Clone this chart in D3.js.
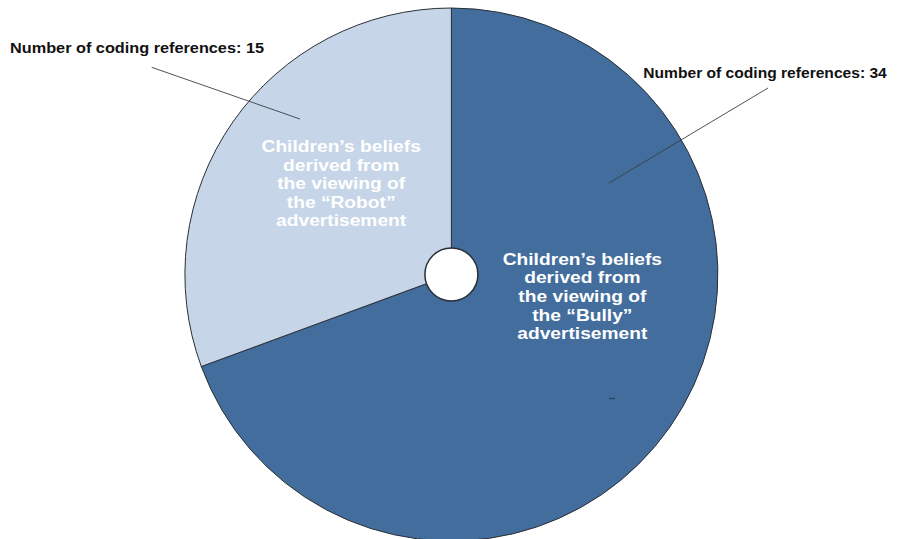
<!DOCTYPE html>
<html>
<head>
<meta charset="utf-8">
<script src="https://cdn.jsdelivr.net/npm/d3@7"></script>
<style>
  html, body { margin: 0; padding: 0; background: #fff; }
  svg { display: block; font-family: "Liberation Sans", Arial, sans-serif; }
</style>
</head>
<body>
<svg id="chart" width="897" height="539"></svg>
<script>
// Coding references per advertisement
const categories = ["Bully", "Robot"];
const values = [34, 15];
const sliceLines = [
  ["Children\u2019s beliefs", "derived from", "the viewing of", "the \u201CBully\u201D", "advertisement"],
  ["Children\u2019s beliefs", "derived from", "the viewing of", "the \u201CRobot\u201D", "advertisement"]
];
const refLabelPrefix = "Number of coding references: ";

const W = 897, H = 539;
const cx = 451.4, cy = 274.5, R = 266.5, holeR = 26.5;

const color = d3.scaleOrdinal().domain(categories).range(["#426d9c", "#c6d5e8"]);

const svg = d3.select("#chart");
const g = svg.append("g").attr("transform", `translate(${cx},${cy})`);

const pie = d3.pie().sort(null).value(d => d.value);
const arcs = pie(categories.map((c, i) => ({ cat: c, value: values[i], lines: sliceLines[i] })));
const arc = d3.arc().innerRadius(0).outerRadius(R);

g.selectAll("path.slice")
  .data(arcs)
  .join("path")
  .attr("class", "slice")
  .attr("d", arc)
  .attr("fill", d => color(d.data.cat))
  .attr("stroke", "#2a2f36")
  .attr("stroke-width", 1);

// Centre hole
g.append("circle")
  .attr("r", holeR)
  .attr("fill", "#fff")
  .attr("stroke", "#2a2f36")
  .attr("stroke-width", 1.5);

// In-slice descriptions (angle in degrees clockwise from top, radius fraction)
const inner = {
  Bully: { angle: 100.7, rf: 0.5, top: -34.5 },
  Robot: { angle: 310.0, rf: 0.54, top: -30 }
};
const lineH = 18.6;
arcs.forEach(d => {
  const p = inner[d.data.cat];
  const a = p.angle * Math.PI / 180;
  const x = Math.sin(a) * R * p.rf;
  const y = -Math.cos(a) * R * p.rf;
  const t = g.append("text")
    .attr("transform", `translate(${x},${y + p.top}) scale(1.13,1)`)
    .attr("text-anchor", "middle")
    .attr("fill", "#ffffff")
    .attr("font-weight", "bold")
    .attr("font-size", 17);
  d.data.lines.forEach((ln, i) => {
    t.append("tspan").attr("x", 0).attr("y", i * lineH).text(ln);
  });
});

// Outside reference-count labels with leader lines
const callouts = {
  Robot: { tx: 10, ty: 52.7, len: 254, x1: 151.7, y1: 67.3, x2: 300, y2: 119 },
  Bully: { tx: 643.3, ty: 77.7, len: 243.5, x1: 768, y1: 88, x2: 609, y2: 183 }
};
arcs.forEach(d => {
  const c = callouts[d.data.cat];
  svg.append("line")
    .attr("x1", c.x1).attr("y1", c.y1)
    .attr("x2", c.x2).attr("y2", c.y2)
    .attr("stroke", "#3a3f46")
    .attr("stroke-width", 0.9);
  svg.append("text")
    .attr("x", c.tx).attr("y", c.ty)
    .attr("font-weight", "bold")
    .attr("font-size", 15.2)
    .attr("fill", "#111")
    .attr("textLength", c.len)
    .attr("lengthAdjust", "spacingAndGlyphs")
    .text(refLabelPrefix + d.data.value);
});

// small stray tick inside the larger slice
svg.append("line")
  .attr("x1", 609).attr("y1", 398.5).attr("x2", 615).attr("y2", 398.5)
  .attr("stroke", "#2a3f5c").attr("stroke-width", 1.2);
</script>
</body>
</html>
